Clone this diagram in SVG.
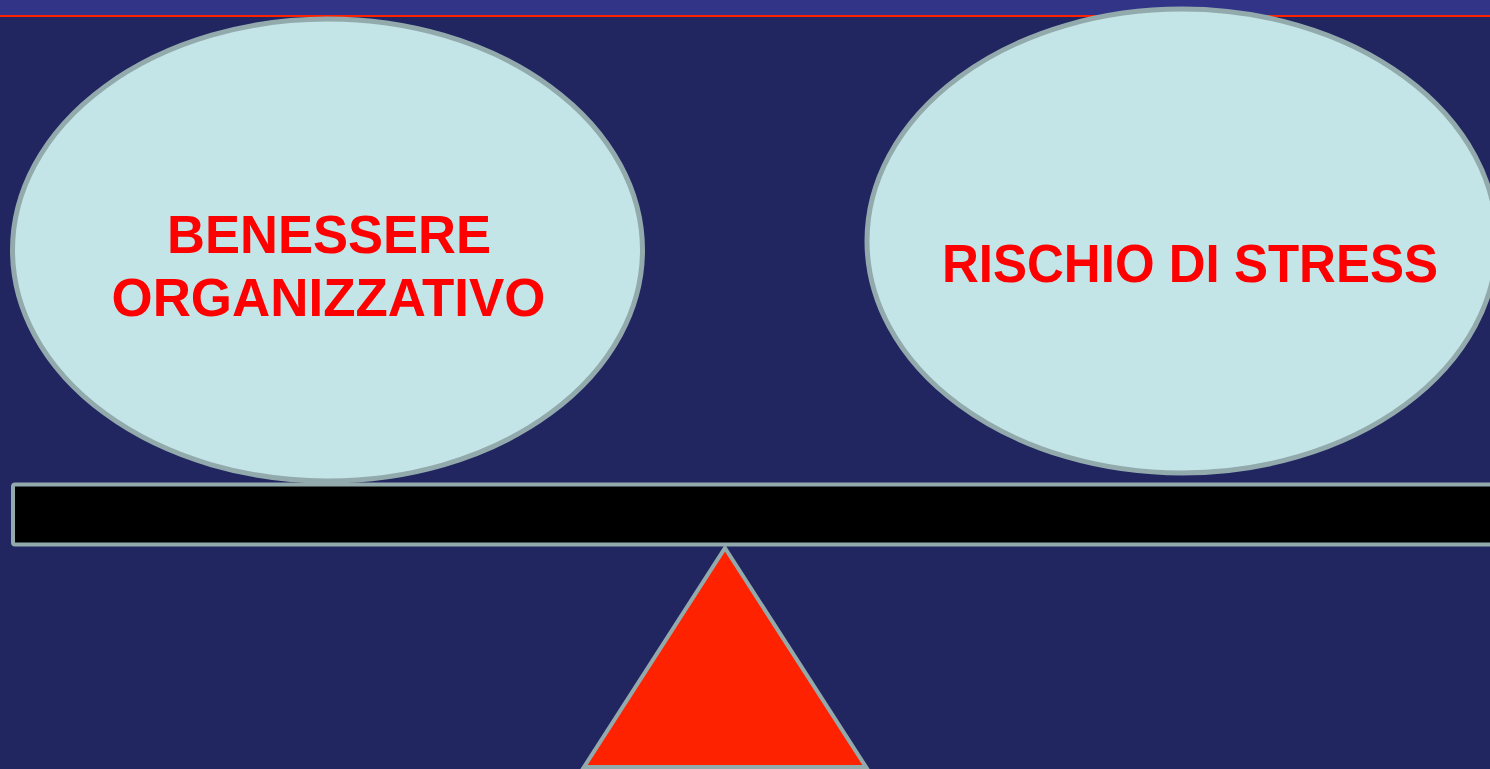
<svg xmlns="http://www.w3.org/2000/svg" width="1490" height="769" viewBox="0 0 1490 769">
<style>
.oval{fill:#c3e5e8;stroke:#93aaad;stroke-width:5}
.lbl{font-family:"Liberation Sans",Arial,sans-serif;font-weight:bold;font-size:54px;fill:#ff0000;text-anchor:middle}
</style>
<rect x="0" y="0" width="1490" height="769" fill="#212560"/>
<rect x="0" y="0" width="1490" height="15" fill="#323587"/>
<rect x="0" y="15" width="1490" height="2" fill="#ff2200"/>
<g id="benessere">
<ellipse class="oval" cx="327.5" cy="250" rx="315" ry="231"/>
<text class="lbl" x="329" y="253" textLength="324" lengthAdjust="spacingAndGlyphs">BENESSERE</text>
<text class="lbl" x="328.5" y="316" textLength="434" lengthAdjust="spacingAndGlyphs">ORGANIZZATIVO</text>
</g>
<g id="rischio">
<ellipse class="oval" cx="1182" cy="241" rx="315" ry="232"/>
<text class="lbl" x="1190" y="282" textLength="496" lengthAdjust="spacingAndGlyphs">RISCHIO DI STRESS</text>
</g>
<g id="trave">
<rect x="13" y="484.5" width="1490" height="60" rx="2" fill="#000000" stroke="#93aaad" stroke-width="4"/>
</g>
<g id="fulcro">
<polygon points="725,548 866,767 584,767" fill="#ff2200" stroke="#93aaad" stroke-width="4" stroke-linejoin="miter"/>
</g>
<g id="connectors"></g>
</svg>
